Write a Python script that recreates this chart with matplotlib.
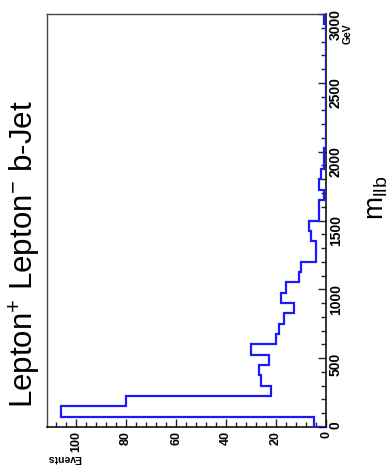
import numpy as np
import matplotlib
matplotlib.use('Agg')
import matplotlib.pyplot as plt
from matplotlib.ticker import MultipleLocator

plt.rcParams['font.family'] = 'Liberation Sans'
plt.rcParams['mathtext.fontset'] = 'custom'
plt.rcParams['mathtext.rm'] = 'Liberation Sans'
plt.rcParams['mathtext.it'] = 'Liberation Sans'

# m_llb histogram, 75 GeV bins from 0 to 3000
edges = np.arange(0, 3001, 75)
events = [5, 106, 80, 22, 26, 27, 23, 30, 20, 19,
          17, 13, 18, 16, 11, 10, 4, 4, 6, 7,
          3, 3, 1, 3, 2, 1, 1, 0, 0, 0,
          0, 0, 0, 0, 0, 0, 0, 0, 0, 1]

event_ticks = [0, 20, 40, 60, 80, 100]
mass_ticks = [0, 500, 1000, 1500, 2000, 2500, 3000]

fig = plt.figure(figsize=(3.92, 4.74), dpi=100)
ax = fig.add_axes([47/392, 1 - 427/474, (326 - 47)/392, (427 - 14)/474])

ax.stairs(events, edges, orientation='horizontal', baseline=0,
          color='#1a1aff', lw=1.6, zorder=3)

# rotated layout: events run right to left, mass runs bottom to top
ax.set_xlim(111.6, 0)
ax.set_ylim(0, 3000)
ax.set_xticks(event_ticks)
ax.set_yticks(mass_ticks)
ax.xaxis.set_minor_locator(MultipleLocator(4))
ax.yaxis.set_minor_locator(MultipleLocator(100))
ax.yaxis.tick_right()

ax.tick_params(axis='both', which='major', direction='in', length=6, width=1,
               color='#222222', labelsize=9, labelrotation=90, pad=3)
ax.tick_params(axis='both', which='minor', direction='in', length=3.5, width=1,
               color='#222222')
ax.tick_params(axis='y', which='major', labelsize=10, pad=2)
for lab in ax.get_xticklabels() + ax.get_yticklabels():
    lab.set_fontweight('bold')

for side in ['left', 'top']:
    ax.spines[side].set_color('#444444')
    ax.spines[side].set_linewidth(1.0)
for side in ['bottom', 'right']:
    ax.spines[side].set_color('#111111')
    ax.spines[side].set_linewidth(1.2)

fig.text(0.064, 0.463, r'Lepton$^{+}$ Lepton$^{-}$ b-Jet', rotation=90,
         ha='center', va='center', fontsize=22.5)
fig.text(0.962, 0.582, r'm$_{\mathrm{llb}}$', rotation=90,
         ha='center', va='center', fontsize=20)
fig.text(0.888, 0.951, 'GeV', rotation=90, ha='center', va='top',
         fontsize=7.5, fontweight='bold')
fig.text(47/392, 0.034, 'Events', rotation=180, ha='left', va='center',
         fontsize=7.5, fontweight='bold')

fig.savefig('out.png', dpi=100)
